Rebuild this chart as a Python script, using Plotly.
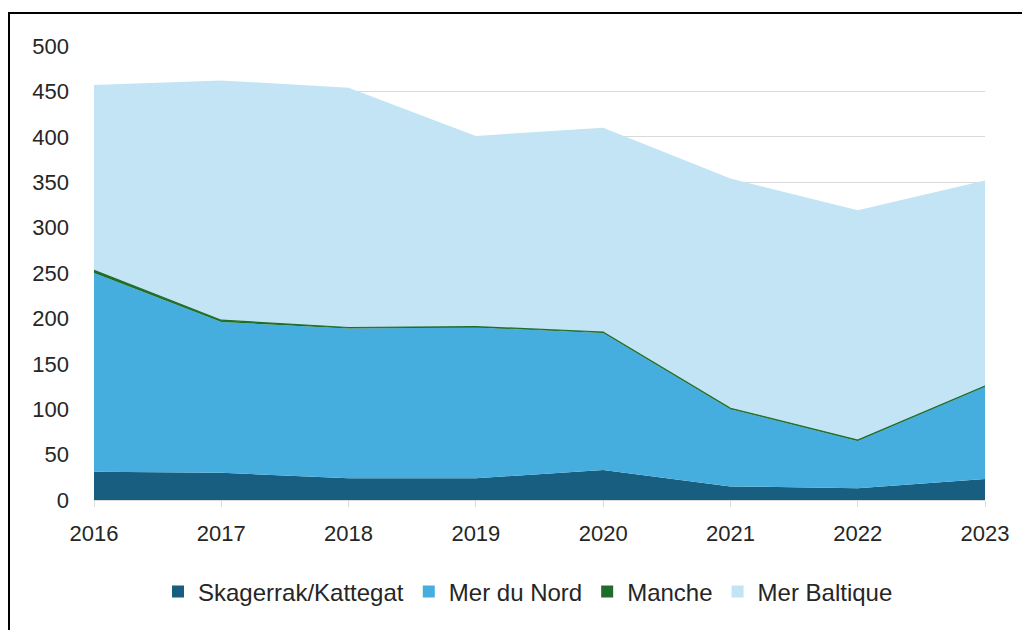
import plotly.graph_objects as go

years = [2016, 2017, 2018, 2019, 2020, 2021, 2022, 2023]
skagerrak = [31, 30, 24, 24, 33, 15, 13, 23]
mer_du_nord = [219, 166, 165, 166, 151, 85, 52, 102]
manche = [3, 2, 1, 1, 1, 1, 1, 0.5]
mer_baltique = [204, 264, 264, 210, 225, 253, 253, 226.5]

names = ["Skagerrak/Kattegat", "Mer du Nord", "Manche", "Mer Baltique"]
series = [skagerrak, mer_du_nord, manche, mer_baltique]
colors = ["#175E80", "#45AEDF", "#1E6E2A", "#C2E4F4"]
line_w = [0, 0, 1.2, 0]

fig = go.Figure()
for n, s, c, w in zip(names, series, colors, line_w):
    fig.add_trace(go.Scatter(
        x=years, y=s, name=n, mode="lines", stackgroup="one",
        line=dict(color=c, width=w), fillcolor=c, showlegend=False,
    ))
for n, c in zip(names, colors):
    fig.add_trace(go.Scatter(
        x=[None], y=[None], name=n, mode="markers",
        marker=dict(symbol="square", size=12, color=c),
    ))

# page body has an 8px margin, so the figure is 8px smaller than the window
W, H = 1022, 622
L, T, PW, PH = 86, 38, 891, 454
R, B = W - L - PW, H - T - PH

fig.update_layout(
    width=W, height=H,
    margin=dict(l=L, r=R, t=T, b=B),
    paper_bgcolor="white", plot_bgcolor="white",
    font=dict(family="Liberation Sans, Arial, sans-serif", size=22, color="#262626"),
    xaxis=dict(
        range=[2016, 2023], tickmode="array", tickvals=years,
        ticktext=[str(y) for y in years], showgrid=False,
        showline=True, linecolor="#D9D9D9", linewidth=1,
        ticks="outside", ticklen=6, tickcolor="#D9D9D9",
        ticklabelstandoff=8, tickfont=dict(size=22), zeroline=False,
    ),
    yaxis=dict(
        range=[0, 500], tickmode="array", tickvals=list(range(0, 501, 50)),
        showgrid=True, gridcolor="#D9D9D9", gridwidth=1,
        zeroline=False, showline=False, ticks="",
        ticklabelstandoff=24, tickfont=dict(size=22),
    ),
    legend=dict(
        orientation="h", traceorder="normal",
        x=(528 - 8 - L) / PW, xanchor="center",
        y=(T + PH - (592 - 8)) / PH, yanchor="middle",
        font=dict(family="Liberation Sans, Arial, sans-serif", size=24, color="#262626"),
        itemwidth=30, tracegroupgap=0,
    ),
    shapes=[dict(
        type="rect", xref="paper", yref="paper",
        x0=(1 - L) / PW, x1=(W + 10 - L) / PW,
        y0=(T + PH - (H + 10)) / PH, y1=(T + PH - 5) / PH,
        line=dict(color="black", width=2), fillcolor="rgba(0,0,0,0)", layer="above",
    )],
)

fig.write_html("out.html")
